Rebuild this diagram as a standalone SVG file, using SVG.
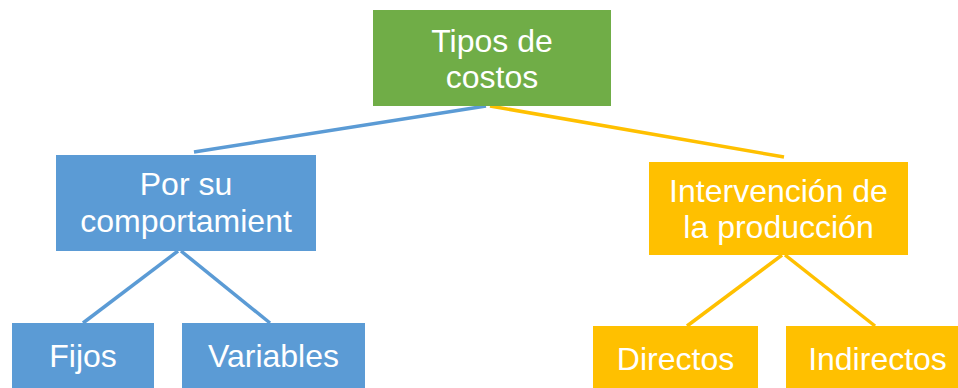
<svg xmlns="http://www.w3.org/2000/svg" width="958" height="388" viewBox="0 0 958 388">
<style>
.t{font-family:"Liberation Sans",Arial,sans-serif;font-size:32px;fill:#fff;text-anchor:middle}
.g{fill:#70AD47}.b{fill:#5B9BD5}.o{fill:#FFC000}
.lb{stroke:#5B9BD5;stroke-width:3.5;fill:none}.lo{stroke:#FFC000;stroke-width:3.5;fill:none}
</style>
<rect width="958" height="388" fill="#fff"/>
<g id="connectors">
<line class="lb" x1="486" y1="106" x2="194" y2="152"/>
<line class="lo" x1="490" y1="106" x2="784" y2="157"/>
<line class="lb" x1="178" y1="251" x2="83" y2="323"/>
<line class="lb" x1="181" y1="251" x2="270" y2="323"/>
<line class="lo" x1="782" y1="255" x2="687" y2="326"/>
<line class="lo" x1="785" y1="255" x2="875" y2="326"/>
</g>
<g id="root"><rect class="g" x="373" y="10" width="238" height="96"/>
<text class="t" x="492" y="52">Tipos de</text><text class="t" x="492" y="88">costos</text></g>
<g id="comportamiento"><rect class="b" x="56" y="155" width="260" height="96"/>
<text class="t" x="186" y="195">Por su</text><text class="t" x="186" y="232">comportamient</text></g>
<g id="intervencion"><rect class="o" x="649" y="162" width="259" height="93"/>
<text class="t" x="778.5" y="202">Intervención de</text><text class="t" x="778.5" y="238">la producción</text></g>
<g id="fijos"><rect class="b" x="12" y="323" width="142" height="70"/>
<text class="t" x="83" y="367">Fijos</text></g>
<g id="variables"><rect class="b" x="182" y="323" width="183" height="70"/>
<text class="t" x="273.5" y="367">Variables</text></g>
<g id="directos"><rect class="o" x="593" y="326" width="165" height="70"/>
<text class="t" x="675.5" y="370">Directos</text></g>
<g id="indirectos"><rect class="o" x="786" y="326" width="183" height="70"/>
<text class="t" x="877.5" y="370">Indirectos</text></g>
</svg>
